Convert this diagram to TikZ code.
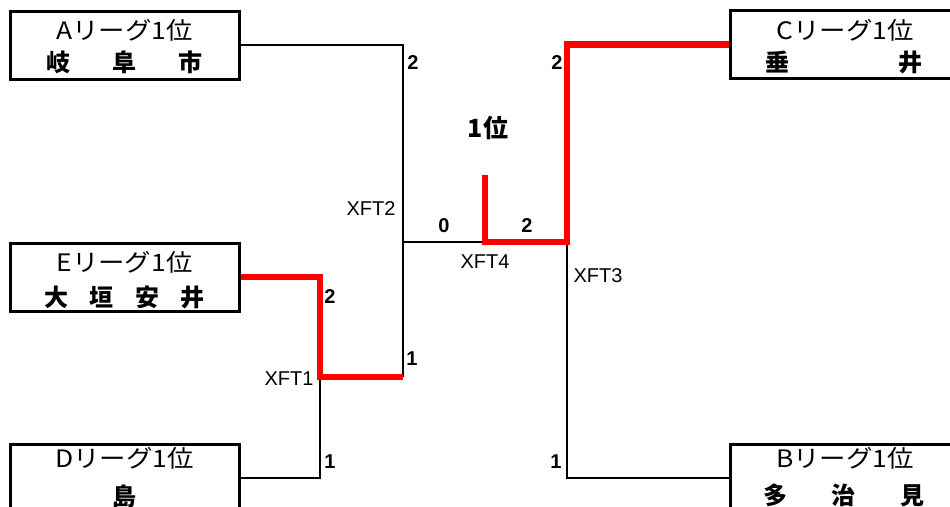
\documentclass[tikz,border=0pt]{standalone}
\usepackage{graphicx}
\usepackage{fontspec}
\setmainfont{Noto Sans CJK JP}
\newfontfamily\lat{Liberation Sans}
\definecolor{winred}{RGB}{255,0,0}
\newcommand{\leaguetitle}[1]{\scalebox{1.1}[1]{#1リーグ1位}}
\begin{document}
\begin{tikzpicture}[x=1pt,y=-1pt,
  team/.style={draw, line width=3pt, minimum width=229pt, minimum height=68pt, inner sep=0pt},
  title/.style={inner sep=0pt, font=\fontsize{24}{26}\selectfont},
  tname/.style={inner sep=0pt, font=\fontsize{24}{26}\selectfont\bfseries},
  conn/.style={line width=2pt, line join=miter},
  winline/.style={draw=winred, line width=6.5pt, line join=miter},
  score/.style={inner sep=0pt, font=\lat\fontsize{20}{22}\selectfont\bfseries},
  match/.style={inner sep=0pt, font=\lat\fontsize{20}{22}\selectfont},
  rank/.style={inner sep=0pt, font=\fontsize{25}{27}\selectfont\bfseries}]
\useasboundingbox (0,0) rectangle (950,506);
% team boxes
\node[team] (A) at (124.5,45) {};
\node[team] (E) at (124.5,277) {};
\node[team] (D) at (124.5,478) {};
\node[team] (C) at (844.5,44.5) {};
\node[team] (B) at (844.5,478) {};
% texts
\node[title] (At) at (124.5,30) {\leaguetitle{A}};
\node[tname] (An) at (124.5,62) {\makebox[157pt]{岐\hfill 阜\hfill 市}};
\node[title] (Et) at (124.5,262) {\leaguetitle{E}};
\node[tname] (En) at (124.5,297) {\makebox[161pt]{大\hfill 垣\hfill 安\hfill 井}};
\node[title] (Dt) at (124.5,458) {\leaguetitle{D}};
\node[tname] (Dn) at (124.5,496) {島};
\node[title] (Ct) at (845,30) {\leaguetitle{C}};
\node[tname] (Cn) at (843.5,62) {\makebox[157pt]{垂\hfill 井}};
\node[title] (Bt) at (845,458) {\leaguetitle{B}};
\node[tname] (Bn) at (843.5,495) {\makebox[161pt]{多\hfill 治\hfill 見}};
% junctions
\coordinate (q1) at (403,377);
\coordinate (s2) at (403,242);
\coordinate (e1) at (320,377);
\coordinate (f0) at (482,242);
\coordinate (f1) at (485,175);
\coordinate (s3) at (567,242);
% connectors
\draw[conn] (A.east) -| (q1);
\draw[conn] (e1) |- (D.east);
\draw[conn] (s2) -- (f0);
\draw[conn] (s3) |- (B.west);
\draw[winline] (E.east) -| (e1) -- (q1);
\draw[winline] (f1) |- (s3) |- (C.west);
% labels
\node[score] (sA) at (413,63) {2};
\node[score] (sC) at (557,63) {2};
\node[rank] (r1) at (488,128) {1位};
\node[match] (x2) at (371,209) {XFT2};
\node[score] (s0) at (444,226) {0};
\node[score] (s22) at (527,226) {2};
\node[match] (x4) at (485,262) {XFT4};
\node[match] (x3) at (598,276) {XFT3};
\node[score] (sE) at (330,297) {2};
\node[score] (sq) at (412,359) {1};
\node[match] (x1) at (289,379) {XFT1};
\node[score] (sD) at (330,462) {1};
\node[score] (sB) at (556,462) {1};
\end{tikzpicture}
\end{document}
